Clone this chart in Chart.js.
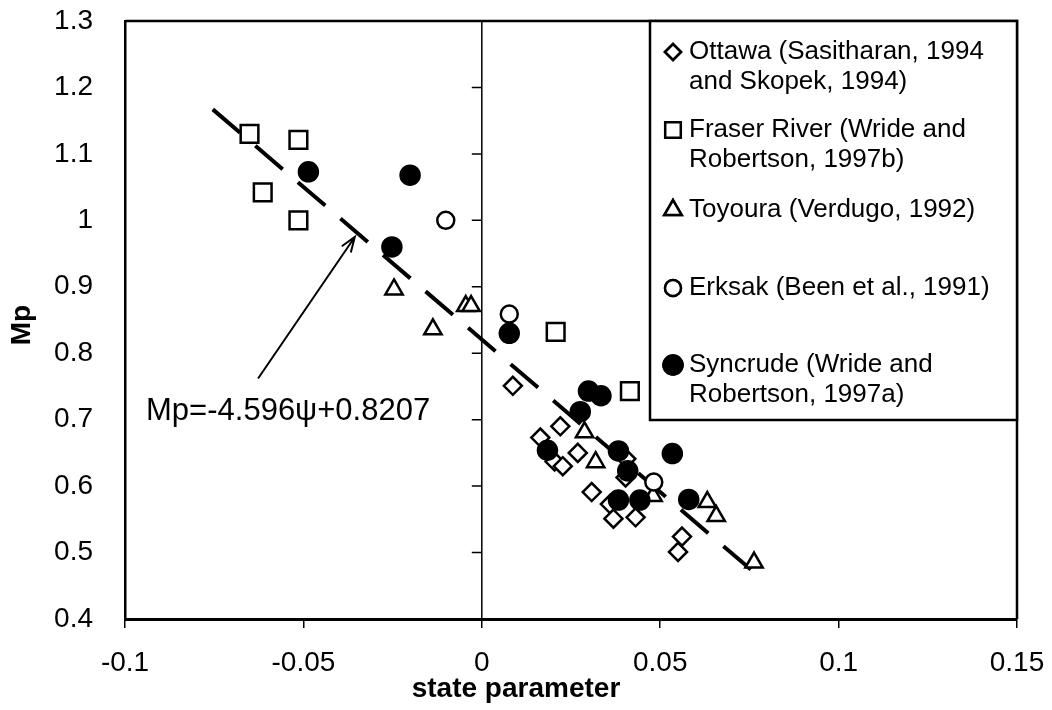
<!DOCTYPE html>
<html>
<head>
<meta charset="utf-8">
<script src="https://cdn.jsdelivr.net/npm/chart.js@4.4.1/dist/chart.umd.min.js"></script>
<style>
  html, body { margin: 0; padding: 0; background: #fff; }
  #wrap { width: 1052px; height: 710px; }
</style>
</head>
<body>
<div id="wrap"><canvas id="myChart" width="1052" height="710"></canvas></div>
<script>
// values
const ottawaX = [0.0087, 0.0164, 0.0220, 0.0204, 0.0227, 0.0269, 0.0308, 0.0359, 0.0369, 0.0405, 0.0403, 0.0431, 0.0561, 0.0550];
const ottawaY = [0.751, 0.673, 0.690, 0.637, 0.630, 0.650, 0.591, 0.573, 0.551, 0.641, 0.613, 0.553, 0.524, 0.501];

const fraserX = [-0.0651, -0.0514, -0.0614, -0.0514, 0.0207, 0.0415];
const fraserY = [1.130, 1.121, 1.042, 1.000, 0.832, 0.743];

const toyouraX = [-0.0246, -0.0137, -0.0045, -0.0030, 0.0288, 0.0319, 0.0480, 0.0632, 0.0657, 0.0763];
const toyouraY = [0.896, 0.836, 0.871, 0.871, 0.681, 0.636, 0.585, 0.576, 0.555, 0.485];

const erksakX = [-0.0101, 0.0077, 0.0482];
const erksakY = [1.000, 0.859, 0.606];

const syncrudeX = [-0.0486, -0.0201, -0.0252, 0.0077, 0.0299, 0.0334, 0.0276, 0.0184, 0.0383, 0.0409, 0.0534, 0.0383, 0.0443, 0.0580];
const syncrudeY = [1.073, 1.068, 0.960, 0.830, 0.743, 0.736, 0.712, 0.654, 0.653, 0.623, 0.649, 0.579, 0.579, 0.580];

// fitted line end points
const fitX = [-0.0754, 0.0768];
const fitY = [1.167, 0.468];

const xTicks = [-0.1, -0.05, 0, 0.05, 0.1, 0.15];
const xTickLabels = ['-0.1', '-0.05', '0', '0.05', '0.1', '0.15'];
const yTicks = [0.4, 0.5, 0.6, 0.7, 0.8, 0.9, 1.0, 1.1, 1.2, 1.3];
const yTickLabels = ['0.4', '0.5', '0.6', '0.7', '0.8', '0.9', '1', '1.1', '1.2', '1.3'];

const legendLines = [
    ['Ottawa (Sasitharan, 1994', 'and Skopek, 1994)'],
    ['Fraser River (Wride and', 'Robertson, 1997b)'],
    ['Toyoura (Verdugo, 1992)'],
    ['Erksak (Been et al., 1991)'],
    ['Syncrude (Wride and', 'Robertson, 1997a)']
];
const fitLabel = 'Mp=-4.596\u03c8+0.8207';

const FONT = '"Liberation Sans", Arial, Helvetica, sans-serif';

function pts(xs, ys) {
    return xs.map((x, i) => ({ x: x, y: ys[i] }));
}

const markerStyles = [
    { pointStyle: 'rectRot', radius: 9, legendRadius: 8, fill: '#fff' },
    { pointStyle: 'rect', radius: 12.5, legendRadius: 11, fill: '#fff' },
    { pointStyle: 'triangle', radius: 10, legendRadius: 10, fill: '#fff' },
    { pointStyle: 'circle', radius: 8.5, legendRadius: 8, fill: '#fff' },
    { pointStyle: 'circle', radius: 9.5, legendRadius: 9.5, fill: '#000' }
];
const seriesData = [
    pts(ottawaX, ottawaY),
    pts(fraserX, fraserY),
    pts(toyouraX, toyouraY),
    pts(erksakX, erksakY),
    pts(syncrudeX, syncrudeY)
];

const datasets = seriesData.map((d, i) => ({
    type: 'scatter',
    label: legendLines[i].join(' '),
    data: d,
    pointStyle: markerStyles[i].pointStyle,
    pointRadius: markerStyles[i].radius,
    pointBackgroundColor: markerStyles[i].fill,
    pointBorderColor: '#000',
    pointBorderWidth: 2.5,
    order: 10 - i
}));
datasets.push({
    type: 'line',
    label: 'fit',
    data: pts(fitX, fitY),
    borderColor: '#000',
    borderWidth: 4,
    borderDash: [36, 20],
    pointRadius: 0,
    fill: false,
    order: 20
});

// frame, zero line, legend box, annotation and axis titles
const extras = {
    id: 'extras',
    beforeDatasetsDraw(chart) {
        const ctx = chart.ctx;
        const a = chart.chartArea;
        const xs = chart.scales.x, ys = chart.scales.y;
        const x0 = xs.getPixelForValue(0);
        ctx.save();
        ctx.strokeStyle = '#000';
        ctx.lineWidth = 1.5;
        ctx.beginPath();
        ctx.moveTo(x0, a.top);
        ctx.lineTo(x0, a.bottom);
        yTicks.forEach(v => {
            const py = ys.getPixelForValue(v);
            ctx.moveTo(x0 - 10, py);
            ctx.lineTo(x0, py);
        });
        ctx.stroke();
        ctx.restore();
    },
    afterDraw(chart) {
        const ctx = chart.ctx;
        const a = chart.chartArea;
        const xs = chart.scales.x, ys = chart.scales.y;
        ctx.save();
        ctx.strokeStyle = '#000';
        ctx.lineWidth = 2.5;
        ctx.beginPath();
        ctx.moveTo(a.left, a.top);
        ctx.lineTo(a.right, a.top);
        ctx.lineTo(a.right, a.bottom);
        ctx.stroke();

        // legend
        const lx = 650, ly = a.top, lr = a.right, lb = 420;
        ctx.fillStyle = '#fff';
        ctx.fillRect(lx, ly, lr - lx, lb - ly);
        ctx.strokeRect(lx, ly, lr - lx, lb - ly);
        const rowY = [[52, 82], [130, 160], [210], [288], [365, 395]];
        ctx.font = '26px ' + FONT;
        ctx.textBaseline = 'middle';
        ctx.textAlign = 'left';
        legendLines.forEach((lines, i) => {
            const m = markerStyles[i];
            ctx.fillStyle = m.fill;
            ctx.lineWidth = 2.5;
            Chart.helpers.drawPoint(ctx, {
                pointStyle: m.pointStyle,
                radius: m.legendRadius,
                borderWidth: 2.5
            }, 673, rowY[i][0]);
            ctx.fill();
            ctx.stroke();
            ctx.fillStyle = '#000';
            lines.forEach((t, j) => ctx.fillText(t, 689, rowY[i][j]));
        });

        // arrow pointing at the fit line
        const tx = xs.getPixelForValue(-0.0627), ty = ys.getPixelForValue(0.762);
        const hx = xs.getPixelForValue(-0.0356), hy = ys.getPixelForValue(0.975);
        const ang = Math.atan2(hy - ty, hx - tx);
        ctx.lineWidth = 2;
        ctx.beginPath();
        ctx.moveTo(tx, ty);
        ctx.lineTo(hx, hy);
        ctx.moveTo(hx - 16 * Math.cos(ang - 0.35), hy - 16 * Math.sin(ang - 0.35));
        ctx.lineTo(hx, hy);
        ctx.lineTo(hx - 16 * Math.cos(ang + 0.35), hy - 16 * Math.sin(ang + 0.35));
        ctx.stroke();

        ctx.fillStyle = '#000';
        ctx.font = '31px ' + FONT;
        ctx.textBaseline = 'alphabetic';
        ctx.fillText(fitLabel, xs.getPixelForValue(-0.0941), ys.getPixelForValue(0.699));

        // axis titles
        ctx.font = 'bold 28px ' + FONT;
        ctx.textAlign = 'center';
        ctx.textBaseline = 'middle';
        ctx.fillText('state parameter', 516, 689);
        ctx.translate(22, 325);
        ctx.rotate(-Math.PI / 2);
        ctx.fillText('Mp', 0, 0);
        ctx.restore();
    }
};

const ctx = document.getElementById('myChart').getContext('2d');
const myChart = new Chart(ctx, {
    data: { datasets: datasets },
    options: {
        responsive: false,
        animation: false,
        layout: { padding: { top: 21, right: 35, bottom: 0, left: 0 } },
        plugins: {
            legend: { display: false },
            tooltip: { enabled: false }
        },
        scales: {
            x: {
                type: 'linear',
                min: -0.1,
                max: 0.15,
                afterBuildTicks: (scale) => { scale.ticks = xTicks.map(v => ({ value: v })); },
                afterFit: (scale) => {
                    scale.height = 91;
                    scale.paddingLeft = 0;
                    scale.paddingRight = 0;
                },
                grid: { drawOnChartArea: false, drawTicks: true, tickLength: 9, color: '#000', lineWidth: 1.5 },
                border: { display: true, color: '#000', width: 3 },
                ticks: {
                    color: '#000',
                    font: { family: FONT, size: 28 },
                    padding: 18,
                    maxRotation: 0,
                    callback: (v, i) => xTickLabels[i]
                }
            },
            y: {
                type: 'linear',
                min: 0.4,
                max: 1.3,
                afterBuildTicks: (scale) => { scale.ticks = yTicks.map(v => ({ value: v })); },
                afterFit: (scale) => {
                    scale.width = 125;
                    scale.paddingTop = 0;
                    scale.paddingBottom = 0;
                },
                grid: { display: false },
                border: { display: true, color: '#000', width: 2.5 },
                ticks: {
                    color: '#000',
                    font: { family: FONT, size: 28 },
                    padding: 24,
                    callback: (v, i) => yTickLabels[i]
                }
            }
        }
    },
    plugins: [extras]
});
</script>
</body>
</html>
